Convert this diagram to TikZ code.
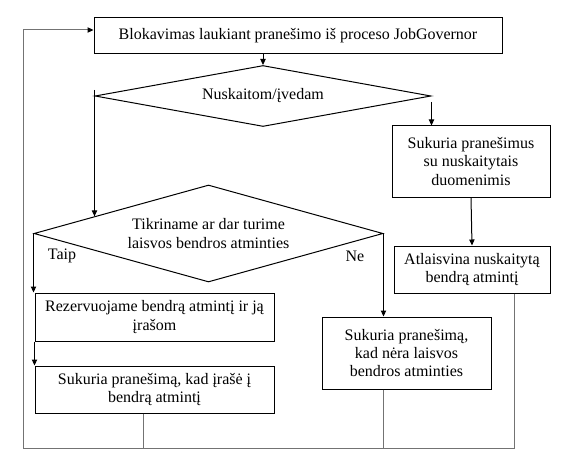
\documentclass[tikz,border=0pt]{standalone}
\usepackage{fontspec}
\setmainfont{Liberation Serif}
\usetikzlibrary{arrows.meta,shapes.geometric,calc}

\tikzset{
  txt/.style={font=\fontsize{12}{13.8}\selectfont},
  box/.style={txt,draw,line width=.75pt,align=center,inner sep=0pt},
  cond/.style={txt,diamond,draw,line width=.75pt,align=center,inner sep=0pt,aspect=4},
  arr/.style={-{Triangle[length=4.5pt,width=4pt]},line width=.75pt},
  back/.style={color=black!55,line width=.75pt,-{Triangle[length=4.5pt,width=4pt,color=black]}},
  backline/.style={color=black!55,line width=.75pt}
}

\begin{document}
\begin{tikzpicture}[x=.75pt,y=-.75pt]
\useasboundingbox (0,0) rectangle (579,467);

% boxes
\node[box,minimum width=306pt,minimum height=27pt] (wait) at (298,36) {Blokavimas laukiant pranešimo iš proceso JobGovernor};
\node[cond,minimum width=252pt,minimum height=45.75pt] (read) at (263,96) {Nuskaitom/įvedam};
\node[box,minimum width=118.5pt,minimum height=53.25pt] (msg) at (471,161.5) {Sukuria pranešimus\\su nuskaitytais\\duomenimis};
\node[box,minimum width=117pt,minimum height=35.25pt] (free) at (472,269.5) {Atlaisvina nuskaitytą\\bendrą atmintį};
\node[cond,minimum width=261.75pt,minimum height=72.75pt] (check) at (208.5,233.5) {Tikriname ar dar turime\\laisvos bendros atminties};
\node[box,minimum width=179.25pt,minimum height=36pt] (reserve) at (154.5,317) {Rezervuojame bendrą atmintį ir ją\\įrašom};
\node[box,minimum width=179.25pt,minimum height=35.25pt] (written) at (154.5,389.5) {Sukuria pranešimą, kad įrašė į\\bendrą atmintį};
\node[box,minimum width=126.75pt,minimum height=54pt] (nofree) at (406.5,353) {Sukuria pranešimą,\\kad nėra laisvos\\bendros atminties};

\node[txt,inner sep=0pt] (taip) at (62,256) {Taip};
\node[txt,inner sep=0pt] (ne) at (355,256) {Ne};

% arrows
\coordinate (edge) at ($(check.west)!0.35!(check.north)$);
\draw[arr] (read.north |- wait.south) -- (read.north);
\draw[arr] ($(read.west)+(0,-6)$) -- (read.west |- edge);
\draw[arr] ($(read.east)+(0,6)$) -- (read.east |- msg.north);
\draw[arr] (msg.south) -- (free.north);
\draw[arr] (check.west) -- (check.west |- reserve.north);
\draw[arr] (reserve.south west) -- (written.north west);
\draw[arr] (check.east) -- (check.east |- nofree.north);

% back to the start
\coordinate (ll) at (23,448);
\coordinate (mm) at (143,448);
\coordinate (rr) at (514,448);
\draw[backline] (mm |- written.south) -- (mm);
\draw[backline] (check.east |- nofree.south) -- (check.east |- ll);
\draw[back] (rr |- free.south) -- (rr) -- (ll) |- ([yshift=4.5pt]wait.west);

\end{tikzpicture}
\end{document}
